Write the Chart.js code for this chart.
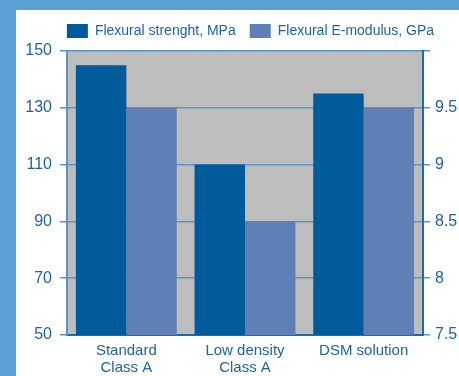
<!DOCTYPE html>
<html>
<head>
<meta charset="utf-8">
<script src="https://cdn.jsdelivr.net/npm/chart.js@4"></script>
<style>
  html, body { margin: 0; padding: 0; }
  body { width: 459px; height: 376px; background: #5ba0d5; position: relative; overflow: hidden; }
  .panel { position: absolute; left: 16px; top: 10px; width: 443px; height: 366px; background: #fff; }
</style>
</head>
<body>
<div class="panel">
  <canvas id="myChart" width="443" height="366"></canvas>
</div>
<script>
const categories = [['Standard', 'Class A'], ['Low density', 'Class A'], 'DSM solution'];
const strengthMPa = [145, 110, 135];
const modulusGPa = [9.5, 8.5, 9.5];
const leftTicks = [50, 70, 90, 110, 130, 150];
const rightTicks = [7.5, 8, 8.5, 9, 9.5, 10];

const FONT = "'Liberation Sans Narrow', 'Arial Narrow', 'Liberation Sans', sans-serif";
const textColor = '#1f62a7';

// grey plot background, drawn before grid and bars
const plotBg = {
    id: 'plotBg',
    beforeDraw(chart) {
        const { ctx, chartArea } = chart;
        ctx.save();
        ctx.fillStyle = '#bdbdbd';
        ctx.fillRect(chartArea.left, chartArea.top, chartArea.right - chartArea.left, chartArea.bottom - chartArea.top);
        ctx.restore();
    }
};

// fixed legend height, legend row nudged to the right
const legendBox = {
    id: 'legendBox',
    beforeInit(chart) {
        const fit = chart.legend.fit;
        chart.legend.fit = function () {
            fit.call(this);
            this.height = 41;
        };
    },
    afterLayout(chart) {
        chart.legend.left += 13;
        chart.legend.right += 13;
    }
};

const ctx = document.getElementById('myChart').getContext('2d');
new Chart(ctx, {
    type: 'bar',
    data: {
        labels: categories,
        datasets: [
            {
                label: 'Flexural strenght, MPa',
                data: strengthMPa,
                backgroundColor: '#005b9b',
                yAxisID: 'y',
                barPercentage: 1,
                categoryPercentage: 0.85,
            },
            {
                label: 'Flexural E-modulus, GPa',
                data: modulusGPa,
                backgroundColor: '#5f80b7',
                yAxisID: 'y2',
                barPercentage: 1,
                categoryPercentage: 0.85,
            },
        ],
    },
    options: {
        responsive: false,
        animation: false,
        layout: { padding: 0, autoPadding: false },
        plugins: {
            tooltip: { enabled: false },
            legend: {
                display: true,
                position: 'top',
                labels: {
                    boxWidth: 21,
                    boxHeight: 14,
                    padding: 14,
                    color: textColor,
                    font: { family: FONT, size: 14 },
                },
            },
        },
        scales: {
            x: {
                grid: { display: false },
                border: { display: true, color: '#1f6aa8', width: 2 },
                ticks: {
                    color: textColor,
                    font: { family: FONT, size: 15, lineHeight: 1.1 },
                    padding: 0,
                    maxRotation: 0,
                },
                afterFit(scale) { scale.height = 41; },
            },
            y: {
                position: 'left',
                min: 50,
                max: 150,
                afterBuildTicks(scale) { scale.ticks = leftTicks.map(v => ({ value: v })); },
                grid: {
                    color: '#5f93c2',
                    lineWidth: 1.5,
                    tickLength: 7,
                },
                border: { display: true, color: '#5f93c2', width: 2 },
                ticks: {
                    color: textColor,
                    font: { family: FONT, size: 16 },
                    padding: 8,
                },
                afterFit(scale) { scale.width = 51; },
            },
            y2: {
                position: 'right',
                min: 7.5,
                max: 10,
                afterBuildTicks(scale) { scale.ticks = rightTicks.map(v => ({ value: v })); },
                grid: {
                    drawOnChartArea: false,
                    color: '#5f93c2',
                    lineWidth: 1.5,
                    tickLength: 7,
                },
                border: { display: true, color: '#1f6aa8', width: 2 },
                ticks: {
                    color: textColor,
                    font: { family: FONT, size: 16 },
                    padding: 5,
                    callback: (v) => (v === 10 ? '' : String(v)),
                },
                afterFit(scale) { scale.width = 36; },
            },
        },
    },
    plugins: [plotBg, legendBox],
});
</script>
</body>
</html>
